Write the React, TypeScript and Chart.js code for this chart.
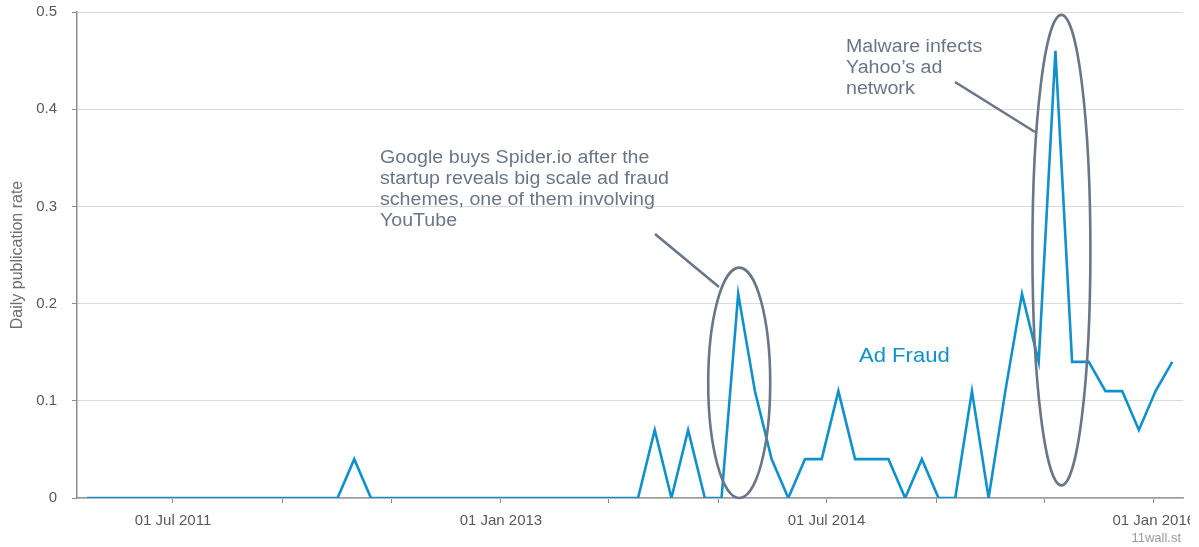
import React, { useEffect, useRef } from "react";
import { Chart, registerables } from "chart.js";

Chart.register(...registerables);

// ---- Data ----
const FIRST_POINT = "2011-02-07"; // first 4-weekly sample
const STEP_DAYS = 28;
const adFraudRate: number[] = [
  0, 0, 0, 0, 0, 0, 0, 0, 0, 0, 0, 0, 0, 0, 0, 0,
  0.04,
  0, 0, 0, 0, 0, 0, 0, 0, 0, 0, 0, 0, 0, 0, 0, 0, 0,
  0.07, 0, 0.07, 0, 0, 0.21, 0.11, 0.04, 0, 0.04, 0.04, 0.11, 0.04, 0.04, 0.04, 0,
  0.04, 0, 0, 0.11, 0, 0.11, 0.21, 0.14, 0.46, 0.14, 0.14, 0.11, 0.11, 0.07, 0.11, 0.14,
];
const xTickDates = [
  "2011-07-01", "2012-01-01", "2012-07-01", "2013-01-01", "2013-07-01",
  "2014-01-01", "2014-07-01", "2015-01-01", "2015-07-01", "2016-01-01",
];
const xTickLabels = [
  "01 Jul 2011", "", "", "01 Jan 2013", "", "", "01 Jul 2014", "", "", "01 Jan 2016",
];
const xRange = ["2011-01-21", "2016-02-19"];
const yTicks = [0, 0.1, 0.2, 0.3, 0.4, 0.5];
const seriesName = "Ad Fraud";
const yTitle = "Daily publication rate";
const note1 = [
  "Google buys Spider.io after the",
  "startup reveals big scale ad fraud",
  "schemes, one of them involving",
  "YouTube",
];
const note2 = ["Malware infects", "Yahoo\u2019s ad", "network"];
const watermark = "11wall.st";

// ---- helpers ----
const DAY = 86400000;
const EPOCH = Date.UTC(2011, 0, 1);
const toDay = (s: string) => {
  const [y, m, d] = s.split("-").map(Number);
  return (Date.UTC(y, m - 1, d) - EPOCH) / DAY;
};
const firstDay = toDay(FIRST_POINT);
const points = adFraudRate.map((v, i) => ({ x: firstDay + i * STEP_DAYS, y: v }));

const FONT = "'Liberation Sans', Arial, sans-serif";
const BLUE = "#1090cc";
const SLATE = "#6a7687";

function stretchedText(ctx: any, text: string, x: number, y: number, sx: number) {
  ctx.save();
  ctx.translate(x, y);
  ctx.scale(sx, 1);
  ctx.fillText(text, 0, 0);
  ctx.restore();
}

const annotations = {
  id: "annotations",
  afterDatasetsDraw(chart: any) {
    const { ctx } = chart;
    const xs = chart.scales.x;
    const ys = chart.scales.y;
    ctx.save();
    ctx.strokeStyle = SLATE;
    ctx.lineWidth = 2.6;
    // ellipse around Spider.io spike
    const e1x = xs.getPixelForValue(points[39].x) + 1;
    const e1top = ys.getPixelForValue(0.237);
    const e1bot = ys.getPixelForValue(0.0);
    ctx.beginPath();
    ctx.ellipse(e1x, (e1top + e1bot) / 2, 31, (e1bot - e1top) / 2, 0, 0, Math.PI * 2);
    ctx.stroke();
    // ellipse around Yahoo spike
    const e2x = xs.getPixelForValue(points[58].x) + 6;
    const e2top = ys.getPixelForValue(0.497);
    const e2bot = ys.getPixelForValue(0.013);
    ctx.beginPath();
    ctx.ellipse(e2x, (e2top + e2bot) / 2, 29, (e2bot - e2top) / 2, 0, 0, Math.PI * 2);
    ctx.stroke();
    // pointer lines
    ctx.beginPath();
    ctx.moveTo(655, 234);
    ctx.lineTo(719, 287);
    ctx.moveTo(955, 82);
    ctx.lineTo(1035, 132);
    ctx.stroke();

    // texts
    ctx.fillStyle = SLATE;
    ctx.font = `18px ${FONT}`;
    ctx.textAlign = "left";
    ctx.textBaseline = "middle";
    note1.forEach((t, i) => stretchedText(ctx, t, 380, 158 + i * 21, 1.09));
    note2.forEach((t, i) => stretchedText(ctx, t, 846, 47 + i * 21, 1.09));

    ctx.fillStyle = BLUE;
    ctx.font = `21px ${FONT}`;
    stretchedText(ctx, seriesName, 859, 356, 1.05);

    ctx.fillStyle = "#9a9a9a";
    ctx.font = `13px ${FONT}`;
    ctx.textAlign = "right";
    ctx.fillText(watermark, 1181, 538);
    ctx.restore();
  },
};

export default function App() {
  const ref = useRef<HTMLCanvasElement>(null);

  useEffect(() => {
    if (!ref.current) return;
    const chart = new Chart(ref.current, {
      type: "line",
      data: {
        datasets: [
          {
            label: seriesName,
            data: points,
            borderColor: BLUE,
            borderWidth: 2.6,
            pointRadius: 0,
            tension: 0,
            fill: false,
          },
        ],
      },
      options: {
        animation: false,
        responsive: false,
        maintainAspectRatio: false,
        layout: { padding: { top: 12, right: 16, left: 0, bottom: 0 } },
        plugins: {
          legend: { display: false },
          tooltip: { enabled: false },
          title: { display: false },
        },
        scales: {
          x: {
            type: "linear",
            min: toDay(xRange[0]),
            max: toDay(xRange[1]),
            afterBuildTicks: (scale: any) => {
              scale.ticks = xTickDates.map((d) => ({ value: toDay(d) }));
            },
            afterFit: (scale: any) => {
              scale.height = 49;
              scale.paddingLeft = 0;
              scale.paddingRight = 0;
            },
            ticks: {
              autoSkip: false,
              maxRotation: 0,
              padding: 9,
              color: "#595959",
              font: { family: FONT, size: 15 },
              callback: (value: any) => {
                const idx = xTickDates.findIndex((d) => toDay(d) === value);
                return idx >= 0 ? xTickLabels[idx] : "";
              },
            },
            grid: {
              drawOnChartArea: false,
              drawTicks: true,
              tickLength: 5,
              tickColor: "#8c8c8c",
            },
            border: { display: true, color: "#9a9a9a", width: 1.5 },
          },
          y: {
            min: 0,
            max: 0.5,
            afterBuildTicks: (scale: any) => {
              scale.ticks = yTicks.map((v) => ({ value: v }));
            },
            afterFit: (scale: any) => {
              scale.width = 77;
              scale.paddingTop = 0;
              scale.paddingBottom = 0;
            },
            ticks: {
              padding: 15,
              color: "#595959",
              font: { family: FONT, size: 15 },
              callback: (v: any) => String(Math.round(Number(v) * 10) / 10),
            },
            grid: {
              color: "#d9d9d9",
              lineWidth: 1,
              tickLength: 5,
              tickColor: "#8c8c8c",
            },
            border: { display: true, color: "#8c8c8c", width: 1.5 },
            title: {
              display: true,
              text: yTitle,
              color: "#6e6e6e",
              font: { family: FONT, size: 16 },
              padding: { top: 8, bottom: 0 },
            },
          },
        },
      },
      plugins: [annotations],
    });
    return () => chart.destroy();
  }, []);

  return (
    <div style={{ position: "fixed", left: 0, top: 0, width: 1199, height: 547, background: "#fff" }}>
      <div style={{ width: 1190, height: 547, overflow: "hidden" }}>
        <canvas ref={ref} width={1199} height={547} style={{ display: "block" }} />
      </div>
    </div>
  );
}
